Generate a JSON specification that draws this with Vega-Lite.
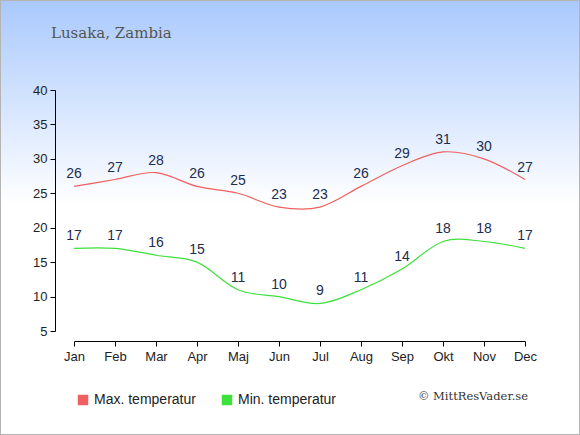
{
  "$schema": "https://vega.github.io/schema/vega-lite/v6.json",
  "width": 580,
  "height": 435,
  "autosize": "none",
  "padding": 0,
  "background": "#ffffff",
  "title": {"text": "Lusaka, Zambia", "anchor": "start", "frame": "group", "offset": -41, "dx": 51, "font": "DejaVu Serif", "fontSize": 15, "fontWeight": "normal", "color": "#555555"},
  "config": {
    "font": "Liberation Sans",
    "view": {
      "fill": {"gradient": "linear", "x1": 0, "y1": 0, "x2": 0, "y2": 1,
        "stops": [{"offset": 0, "color": "#a9c9fd"}, {"offset": 0.47, "color": "#ffffff"}, {"offset": 1, "color": "#ffffff"}]},
      "stroke": "#b4b4b4",
      "strokeWidth": 2
    }
  },
  "data": {
    "values": [
      {"month": "Jan", "series": "Max. temperatur", "temp": 26},
      {"month": "Feb", "series": "Max. temperatur", "temp": 27},
      {"month": "Mar", "series": "Max. temperatur", "temp": 28},
      {"month": "Apr", "series": "Max. temperatur", "temp": 26},
      {"month": "Maj", "series": "Max. temperatur", "temp": 25},
      {"month": "Jun", "series": "Max. temperatur", "temp": 23},
      {"month": "Jul", "series": "Max. temperatur", "temp": 23},
      {"month": "Aug", "series": "Max. temperatur", "temp": 26},
      {"month": "Sep", "series": "Max. temperatur", "temp": 29},
      {"month": "Okt", "series": "Max. temperatur", "temp": 31},
      {"month": "Nov", "series": "Max. temperatur", "temp": 30},
      {"month": "Dec", "series": "Max. temperatur", "temp": 27},
      {"month": "Jan", "series": "Min. temperatur", "temp": 17},
      {"month": "Feb", "series": "Min. temperatur", "temp": 17},
      {"month": "Mar", "series": "Min. temperatur", "temp": 16},
      {"month": "Apr", "series": "Min. temperatur", "temp": 15},
      {"month": "Maj", "series": "Min. temperatur", "temp": 11},
      {"month": "Jun", "series": "Min. temperatur", "temp": 10},
      {"month": "Jul", "series": "Min. temperatur", "temp": 9},
      {"month": "Aug", "series": "Min. temperatur", "temp": 11},
      {"month": "Sep", "series": "Min. temperatur", "temp": 14},
      {"month": "Okt", "series": "Min. temperatur", "temp": 18},
      {"month": "Nov", "series": "Min. temperatur", "temp": 18},
      {"month": "Dec", "series": "Min. temperatur", "temp": 17}
    ]
  },
  "encoding": {
    "x": {
      "field": "month", "type": "ordinal", "sort": null,
      "scale": {"type": "point", "range": [74, 525], "padding": 0},
      "axis": {"orient": "bottom", "offset": -94, "title": null, "labelAngle": 0, "domainColor": "#000000", "tickColor": "#000000", "tickSize": 5, "labelFontSize": 13, "labelColor": "#222222", "labelPadding": 4, "grid": false}
    },
    "y": {
      "field": "temp", "type": "quantitative",
      "scale": {"domain": [5, 40], "range": [331, 90], "nice": false, "zero": false, "clamp": false},
      "axis": {"orient": "left", "offset": -55, "title": null, "values": [5, 10, 15, 20, 25, 30, 35, 40], "domainColor": "#000000", "tickColor": "#000000", "tickSize": 5, "labelFontSize": 13, "labelColor": "#222222", "labelPadding": 3, "grid": false}
    }
  },
  "layer": [
    {
      "mark": {"type": "line", "interpolate": "cardinal", "strokeWidth": 1.2},
      "encoding": {
        "color": {
          "field": "series", "type": "nominal",
          "scale": {"domain": ["Max. temperatur", "Min. temperatur"], "range": ["#f06060", "#3de03d"]},
          "legend": {
            "title": null, "orient": "none", "legendX": 76, "legendY": 393, "direction": "horizontal",
            "symbolType": "square", "symbolSize": 110, "labelFontSize": 14, "labelColor": "#222222",
            "labelOffset": 4, "columnPadding": 24,
            "encode": {"symbols": {"update": {"fill": {"scale": "color", "field": "value"}, "strokeWidth": {"value": 0}, "opacity": {"value": 1}}}}
          }
        }
      }
    },
    {
      "mark": {"type": "text", "dy": -8, "baseline": "alphabetic", "fontSize": 14, "color": "#1c2d4f"},
      "encoding": {"text": {"field": "temp", "type": "quantitative"}}
    },
    {
      "data": {"values": [{"month": "Dec", "temp": -4.6, "label": "© MittResVader.se"}]},
      "mark": {"type": "text", "align": "right", "baseline": "middle", "dx": 3, "font": "DejaVu Serif", "fontSize": 11.5, "color": "#333333"},
      "encoding": {"text": {"field": "label", "type": "nominal"}}
    }
  ]
}
